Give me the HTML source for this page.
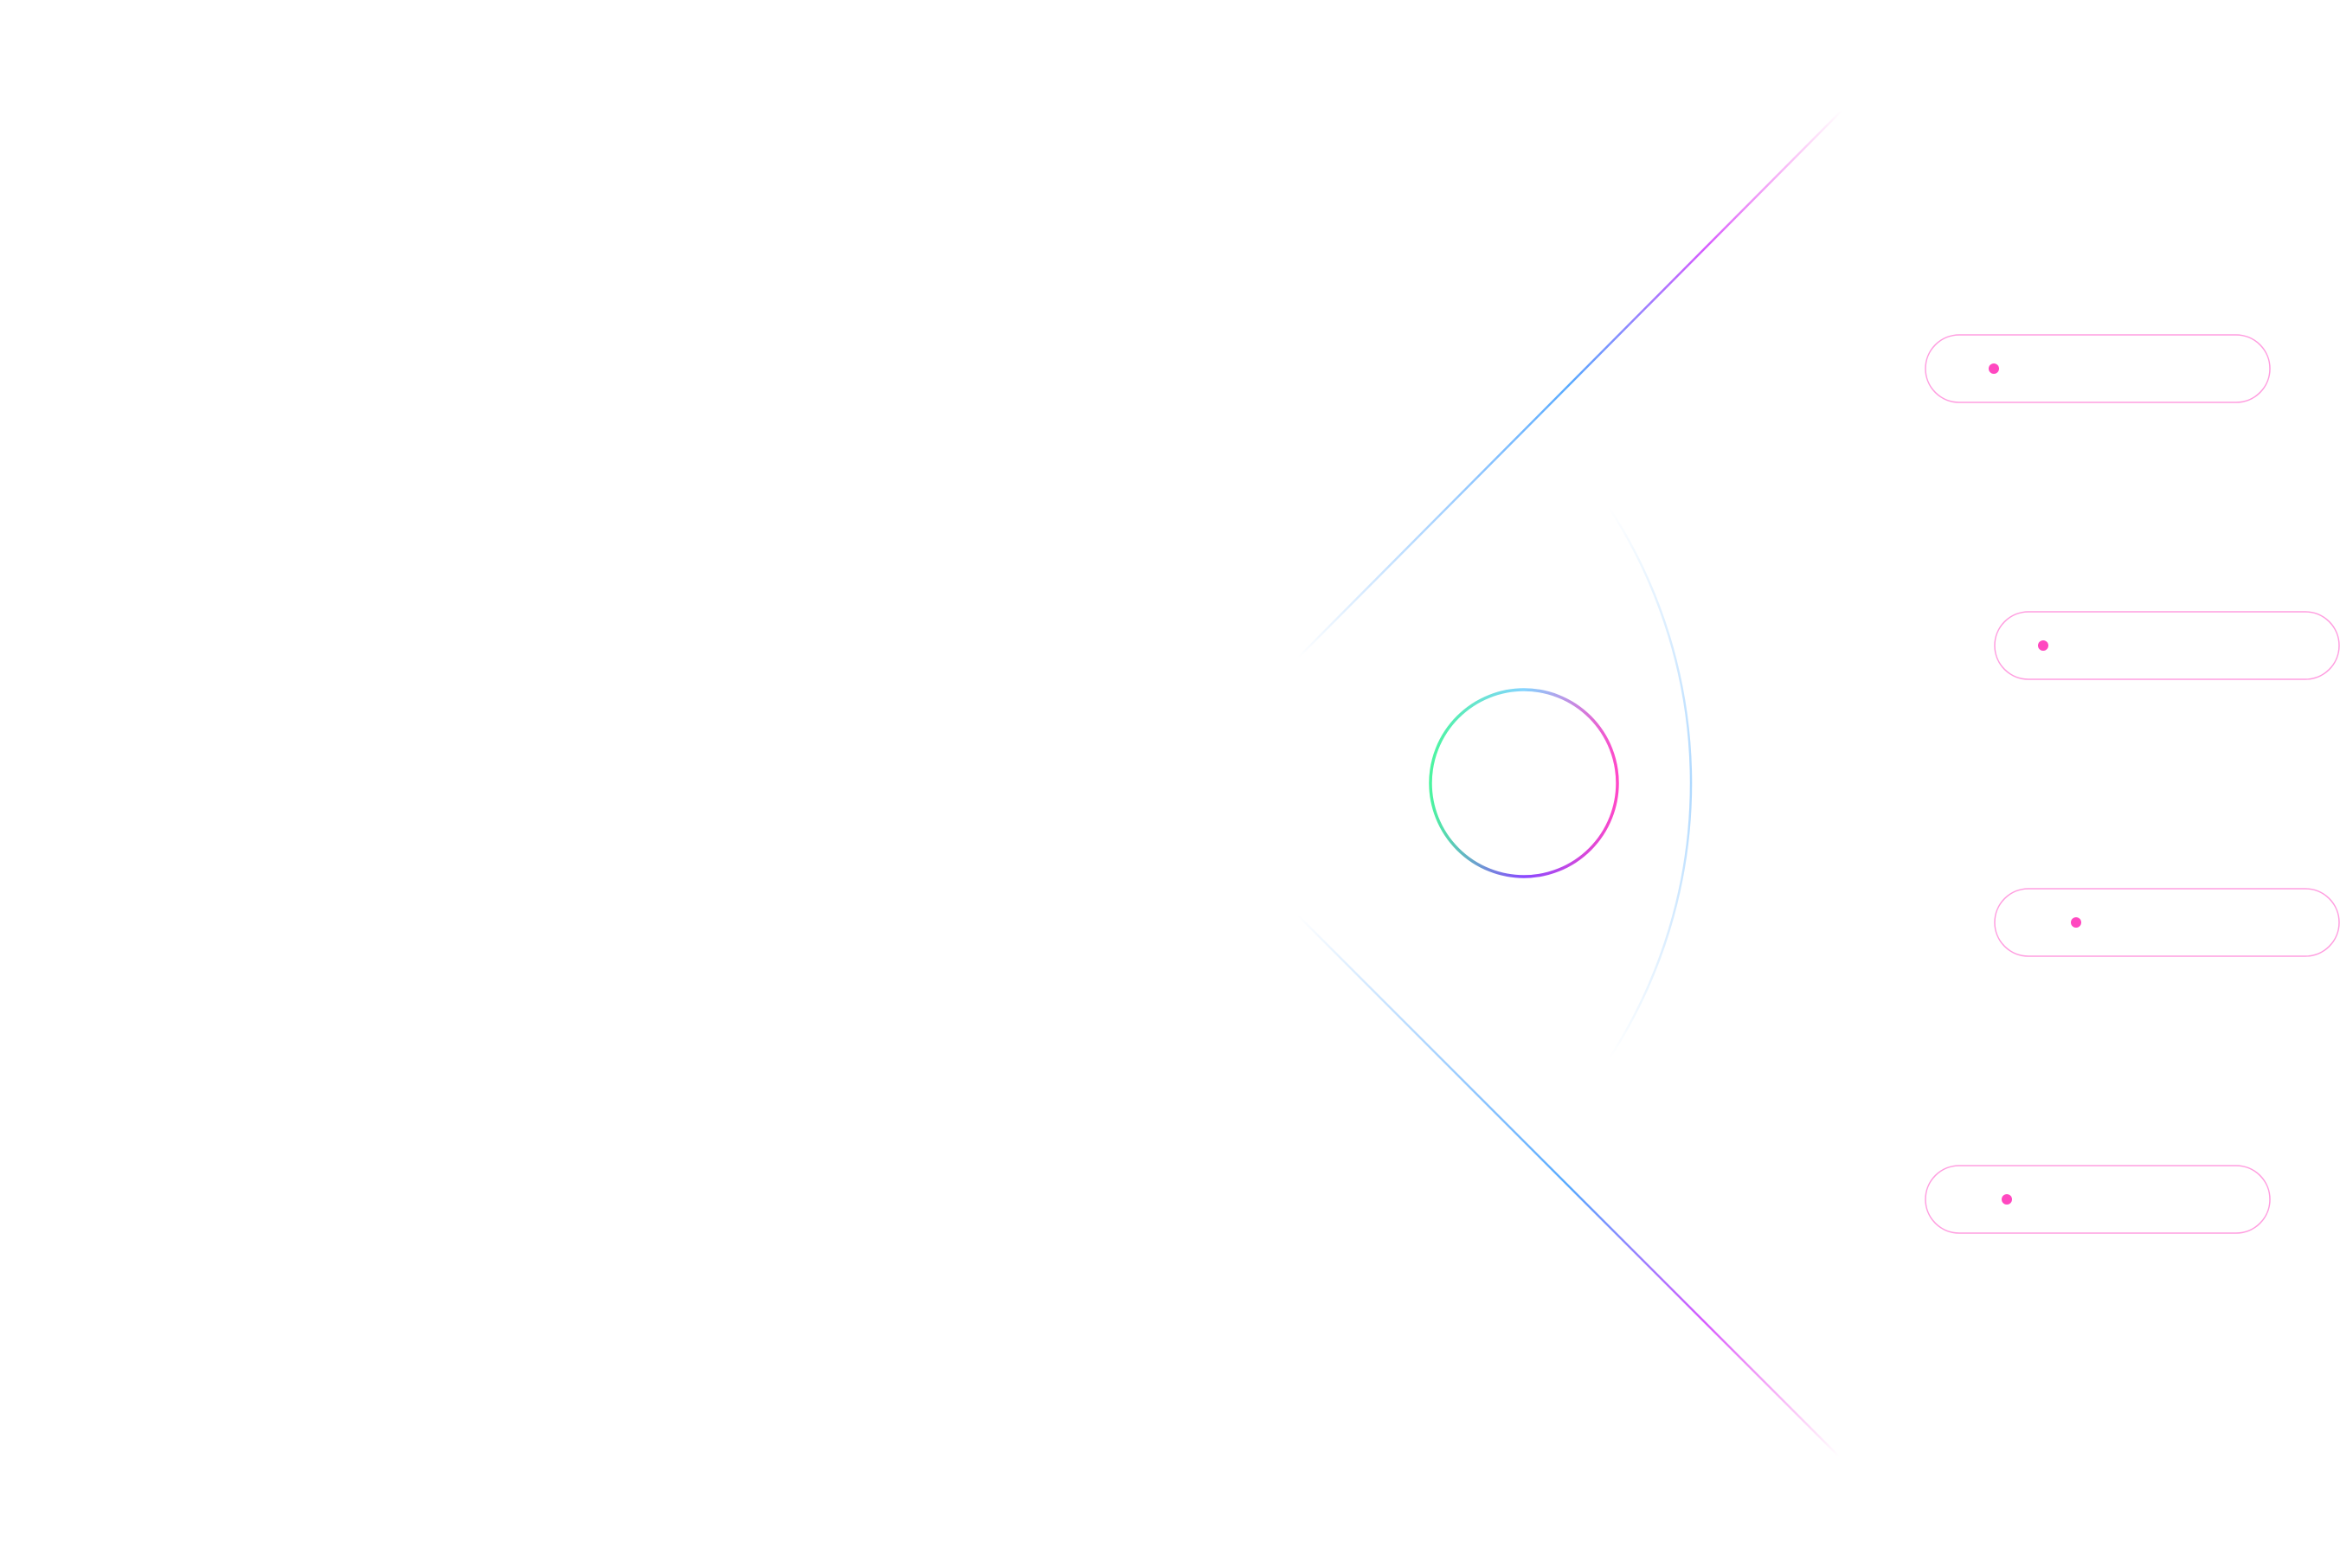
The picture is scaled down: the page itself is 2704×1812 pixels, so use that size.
<!DOCTYPE html>
<html><head><meta charset="utf-8"><style>html,body{margin:0;padding:0;background:#fff;width:2704px;height:1812px;overflow:hidden}</style></head>
<body>
<svg width="2704" height="1812" viewBox="0 0 2704 1812" xmlns="http://www.w3.org/2000/svg">
<defs>
<linearGradient id="lu" gradientUnits="userSpaceOnUse" x1="1500" y1="760" x2="2128" y2="128">
<stop offset="0" stop-color="#58aaff" stop-opacity="0"/>
<stop offset="0.5" stop-color="#58aaff" stop-opacity="1"/>
<stop offset="0.75" stop-color="#d65cff" stop-opacity="1"/>
<stop offset="1" stop-color="#ff5ce0" stop-opacity="0"/>
</linearGradient>
<linearGradient id="ll" gradientUnits="userSpaceOnUse" x1="1500" y1="1058" x2="2125" y2="1683">
<stop offset="0" stop-color="#58aaff" stop-opacity="0"/>
<stop offset="0.5" stop-color="#58aaff" stop-opacity="1"/>
<stop offset="0.75" stop-color="#d65cff" stop-opacity="1"/>
<stop offset="1" stop-color="#ff5ce0" stop-opacity="0"/>
</linearGradient>
<linearGradient id="arc" gradientUnits="userSpaceOnUse" x1="0" y1="586" x2="0" y2="1224">
<stop offset="0" stop-color="#8cc8ff" stop-opacity="0"/>
<stop offset="0.5" stop-color="#8cc8ff" stop-opacity="0.7"/>
<stop offset="1" stop-color="#8cc8ff" stop-opacity="0"/>
</linearGradient>
<linearGradient id="ring" gradientUnits="userSpaceOnUse" x1="1653" y1="905" x2="1869" y2="905">
<stop offset="0" stop-color="#4cf5a0"/>
<stop offset="0.5" stop-color="#84d4ff"/>
<stop offset="1" stop-color="#ff48c8"/>
</linearGradient>
<linearGradient id="ring2" gradientUnits="userSpaceOnUse" x1="1653" y1="905" x2="1869" y2="905">
<stop offset="0" stop-color="#4cf5a0"/>
<stop offset="0.5" stop-color="#8a48ff"/>
<stop offset="1" stop-color="#ff48c8"/>
</linearGradient>
</defs>
<line x1="1500" y1="760" x2="2128" y2="128" stroke="url(#lu)" stroke-width="2.5"/>
<line x1="1500" y1="1058" x2="2125" y2="1683" stroke="url(#ll)" stroke-width="2.5"/>
<path d="M1859 586 A583 583 0 0 1 1859 1224" fill="none" stroke="url(#arc)" stroke-width="2.5"/>
<path d="M1653 905 A108 108 0 0 1 1869 905" fill="none" stroke="url(#ring)" stroke-width="3.5"/>
<path d="M1653 905 A108 108 0 0 0 1869 905" fill="none" stroke="url(#ring2)" stroke-width="3.5"/>
<g fill="none" stroke="#ff9ee0" stroke-width="1.5">
<rect x="2225" y="387" width="398" height="78" rx="39"/>
<rect x="2305" y="707" width="398" height="78" rx="39"/>
<rect x="2305" y="1027" width="398" height="78" rx="39"/>
<rect x="2225" y="1347" width="398" height="78" rx="39"/>
</g>
<g fill="#ff48c0">
<circle cx="2304" cy="426" r="6"/>
<circle cx="2361" cy="746" r="6"/>
<circle cx="2399" cy="1066" r="6"/>
<circle cx="2319" cy="1386" r="6"/>
</g>
</svg>
</body></html>
